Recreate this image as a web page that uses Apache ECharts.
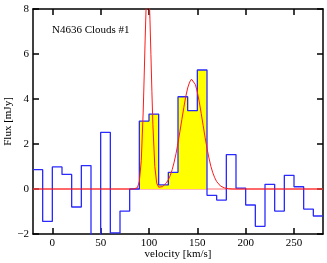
<!DOCTYPE html>
<html><head><meta charset="utf-8">
<script src="https://cdn.jsdelivr.net/npm/echarts@6/dist/echarts.min.js"></script>
<style>html,body{margin:0;padding:0;background:#fff}#c{width:327px;height:263px}</style>
</head><body><div id="c"></div>
<script>
// Histogram bins (left edges, km/s) and flux values (mJy)
const binEdges = [-20,-10,0,10,20,30,40,50,60,70,80,90,100,110,120,130,140,150,160,170,180,190,200,210,220,230,240,250,260,270,280];
const fluxValues = [0.86,-1.44,0.98,0.65,-0.8,1.04,-2.6,2.52,-1.95,-0.98,0.0,3.02,3.33,0.18,0.74,4.1,3.48,5.29,-0.28,-0.49,1.53,0.04,-0.71,-1.66,0.21,-0.98,0.61,0.1,-0.89,-1.2];
// Highlighted (yellow) bins
const fillEdges = [90,100,110,120,130,140,150,160];
const fillValues = [3.02,3.33,0.18,0.74,4.1,3.48,5.29];
// Fitted model curve
const fitVel = [-20,80,84,88,90,92,94,95,96,97,98,99,100,101,102,103,104,106,108,110,112,114,116,118,120,122,124,126,128,130,132,134,136,138,140,142,144,146,148,150,152,154,156,158,160,162,164,166,168,170,174,178,182,186,280];
const fitFlux = [0,0,0.0,0.06,0.33,1.26,3.42,4.98,6.62,8.08,9.04,9.29,8.74,7.54,5.97,4.33,2.88,1.0,0.26,0.08,0.07,0.105,0.17,0.27,0.41,0.60,0.86,1.19,1.58,2.05,2.56,3.09,3.62,4.10,4.49,4.75,4.88,4.83,4.64,4.31,3.87,3.36,2.83,2.30,1.81,1.38,1.01,0.72,0.50,0.33,0.13,0.05,0.015,0,0];
const xTicks = [0,50,100,150,200,250];
const yTicks = [-2,0,2,4,6,8];
const title = 'N4636 Clouds #1';

const histData = fluxValues.map((v,i)=>[binEdges[i],v]);
histData.push([binEdges[binEdges.length-1], fluxValues[fluxValues.length-1]]);
const fillData = fillValues.map((v,i)=>[fillEdges[i],v]);
fillData.push([fillEdges[fillEdges.length-1], fillValues[fillValues.length-1]]);
const fitData = fitVel.map((v,i)=>[v,fitFlux[i]]);

const font = '"Liberation Serif", "Times New Roman", serif';
const axLine = {show:true, onZero:false, lineStyle:{color:'#000', width:1.5}};
const tick = {inside:true, length:6, lineStyle:{color:'#000', width:1.5}};
const chart = echarts.init(document.getElementById('c'), null, {renderer:'canvas'});
chart.setOption({
  animation:false,
  textStyle:{fontFamily:font},
  grid:{left:33, right:4, top:9, bottom:29, containLabel:false, outerBoundsMode:'none'},
  title:{text:title, left:47, top:20, textStyle:{fontFamily:font, fontSize:11, fontWeight:'normal', color:'#000'}},
  xAxis:[
    {type:'value', min:-20, max:280, position:'bottom',
     name:'velocity [km/s]', nameLocation:'middle', nameGap:15, nameMoveOverlap:false,
     nameTextStyle:{fontFamily:font, fontSize:11, color:'#000'},
     axisLine:axLine, splitLine:{show:false},
     axisTick:Object.assign({customValues:xTicks}, tick),
     axisLabel:{customValues:xTicks, margin:4, fontFamily:font, fontSize:11, color:'#000'}},
    {type:'value', min:-20, max:280, position:'top',
     axisLine:axLine, splitLine:{show:false},
     axisTick:Object.assign({customValues:xTicks}, tick),
     axisLabel:{show:false}}
  ],
  yAxis:[
    {type:'value', min:-2, max:8, interval:2, position:'left',
     name:'Flux [mJy]', nameLocation:'middle', nameGap:19, nameMoveOverlap:false,
     nameTextStyle:{fontFamily:font, fontSize:11, color:'#000'},
     axisLine:axLine, splitLine:{show:false},
     axisTick:tick,
     axisLabel:{margin:4, fontFamily:font, fontSize:11, color:'#000',
       formatter:v=> v<0 ? '\u2212'+Math.abs(v) : String(v)}},
    {type:'value', min:-2, max:8, interval:2, position:'right',
     axisLine:axLine, splitLine:{show:false},
     axisTick:tick,
     axisLabel:{show:false}}
  ],
  series:[
    {type:'line', data:fitData.map(p=>[p[0],0]), symbol:'none', clip:true,
     lineStyle:{color:'#ff7070', width:1.2}, z:1},
    {type:'line', data:fillData, step:'end', symbol:'none', clip:true,
     lineStyle:{width:0, opacity:0}, areaStyle:{color:'#ffff00', opacity:1, origin:0}, z:2},
    {type:'line', data:histData, step:'end', symbol:'none', clip:true,
     lineStyle:{color:'#2a2aff', width:1.3}, z:3},
    {type:'line', data:fitData, symbol:'none', clip:true, smooth:false,
     lineStyle:{color:'#ff1a1a', width:1}, z:4}
  ]
});
</script></body></html>
